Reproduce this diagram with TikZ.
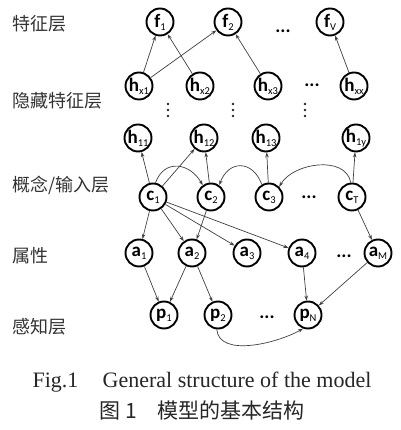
\documentclass[tikz,border=0pt]{standalone}
\usepackage{fontspec}
\setmainfont{Liberation Serif}
\newfontfamily\cjk{Noto Sans CJK SC}
\newfontfamily\calib{Carlito}
\usetikzlibrary{arrows.meta}
\newcommand\nlab[2]{{\bfseries #1}\raisebox{-3pt}{\fontsize{10.5}{10.5}\selectfont #2}}
\begin{document}
\begin{tikzpicture}[x=1pt,y=1pt,
  nd/.style={circle,draw=black,line width=1.9pt,minimum size=27pt,inner sep=-2pt,font=\calib\fontsize{19}{19}\selectfont},
  dts/.style={anchor=base,inner sep=0pt,font=\calib\bfseries\fontsize{19}{19}\selectfont},
  lyr/.style={anchor=west,inner sep=0pt,font=\cjk\fontsize{18}{18}\selectfont,text=black!80},
  captxt/.style={inner sep=0pt,text=black!85},
  arr/.style={-{Stealth[length=5pt,width=3.5pt]},draw=black!75,line width=0.7pt}]
\fill[white] (0,0) rectangle (400,430);
\useasboundingbox (0,0) rectangle (400,430);
% layer labels
\node[lyr] (L1) at (12,406) {特征层};
\node[lyr] (L2) at (12,329) {隐藏特征层};
\node[lyr] (L3) at (12,245) {概念/输入层};
\node[lyr] (L4) at (12,174) {属性};
\node[lyr] (L5) at (12,103) {感知层};
% f row
\node[nd] (f1) at (160,408) {\nlab{f}{1}};
\node[nd] (f2) at (228,408) {\nlab{f}{2}};
\node[dts] (fd) at (283,397) {...};
\node[nd] (fV) at (330,408) {\nlab{f}{V}};
% hx row
\node[nd] (hx1) at (139,344) {\nlab{h}{x1}};
\node[nd] (hx2) at (200,344) {\nlab{h}{x2}};
\node[nd] (hx3) at (268,344) {\nlab{h}{x3}};
\node[dts] (hd) at (312,343) {...};
\node[nd] (hxx) at (354,344) {\nlab{h}{xx}};
% vertical dots
\foreach \vx in {168,233,305}{
  \foreach \vy in {314,320,326}{\fill[black!85] (\vx,\vy) circle (1.3pt);}
}
% h1 row
\node[nd] (h11) at (138,292) {\nlab{h}{11}};
\node[nd] (h12) at (204,292) {\nlab{h}{12}};
\node[nd] (h13) at (266,292) {\nlab{h}{13}};
\node[nd] (h1y) at (356,292) {\nlab{h}{1y}};
% c row
\node[nd] (c1) at (153,233) {\nlab{c}{1}};
\node[nd] (c2) at (211,233) {\nlab{c}{2}};
\node[nd] (c3) at (269,233) {\nlab{c}{3}};
\node[dts] (cd) at (309,231) {...};
\node[nd] (cT) at (352,233) {\nlab{c}{T}};
% a row
\node[nd] (a1) at (139,177) {\nlab{a}{1}};
\node[nd] (a2) at (192,177) {\nlab{a}{2}};
\node[nd] (a3) at (247,177) {\nlab{a}{3}};
\node[nd] (a4) at (302,177) {\nlab{a}{4}};
\node[dts] (ad) at (344,172) {...};
\node[nd] (aM) at (378,177) {\nlab{a}{M}};
% p row
\node[nd] (p1) at (164,115) {\nlab{p}{1}};
\node[nd] (p2) at (218,115) {\nlab{p}{2}};
\node[dts] (pd) at (267,111) {...};
\node[nd] (pN) at (308,115) {\nlab{p}{N}};
% captions
\node[captxt,font=\fontsize{22}{22}\selectfont] (cap1) at (202,48) {Fig.1\hspace{1.1em}General structure of the model};
\node[captxt,font=\cjk\fontsize{21}{21}\selectfont] (cap2) at (202,20) {图 1\hspace{1em}模型的基本结构};
% edges hx -> f
\draw[arr] (hx1) -- (f1);
\draw[arr] (hx1) -- (f2);
\draw[arr] (hx2) -- (f1);
\draw[arr] (hx3) -- (f2);
\draw[arr] (hxx) -- (fV);
% c -> h1
\draw[arr] (c1) -- (h11);
\draw[arr] (c1) -- (h12);
\draw[arr] (c2) -- (h12);
\draw[arr] (c3) -- (h13);
\draw[arr] (cT) -- (h1y);
% c curves
\draw[arr] (c1.80) to[out=70,in=120,looseness=1.4] (c2.125);
\draw[arr] (c3.120) to[out=110,in=70,looseness=1.6] (c2.55);
\draw[arr] (cT.95) to[out=100,in=60] (c3.45);
% c -> a
\draw[arr] (c1) -- (a1);
\draw[arr] (c1) -- (a2);
\draw[arr] (c1) -- (a3);
\draw[arr] (c1) -- (a4);
\draw[arr] (c2) -- (a2);
\draw[arr] (cT) -- (aM);
% a -> p
\draw[arr] (a1) -- (p1);
\draw[arr] (a2) -- (p1);
\draw[arr] (a2) -- (p2);
\draw[arr] (a4) -- (pN);
\draw[arr] (aM) -- (pN);
\draw[arr] (p2.-95) to[out=-85,in=-150,looseness=0.85] (pN.-110);
\end{tikzpicture}
\end{document}
